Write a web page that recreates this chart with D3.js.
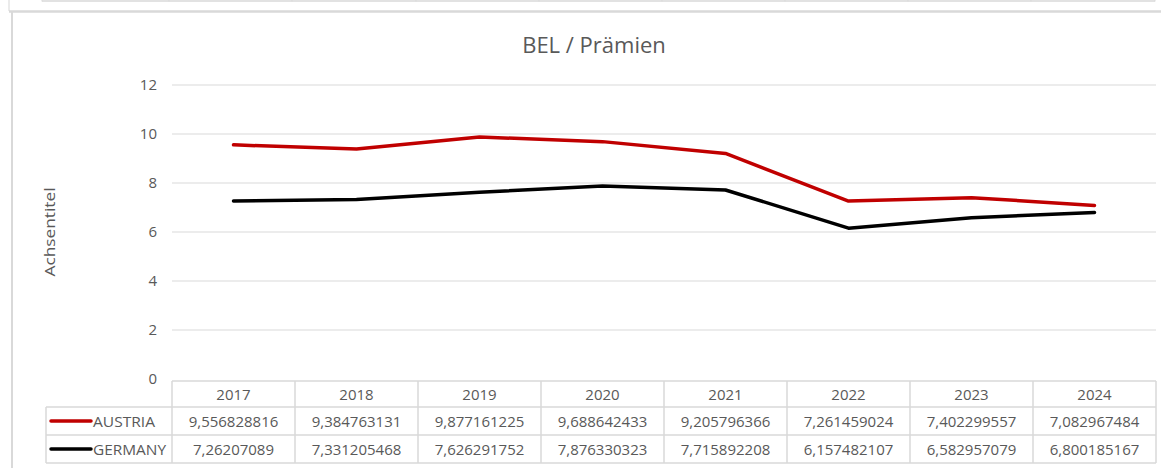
<!DOCTYPE html>
<html>
<head>
<meta charset="utf-8">
<script src="https://cdn.jsdelivr.net/npm/d3@7"></script>
<style>
  body { margin: 0; background: #fff; }
  svg { display: block; font-family: "Open Sans", "Liberation Sans", sans-serif; }
</style>
</head>
<body>
<script>
// chart data
const years = ["2017", "2018", "2019", "2020", "2021", "2022", "2023", "2024"];
const austria = [9.556828816, 9.384763131, 9.877161225, 9.688642433, 9.205796366, 7.261459024, 7.402299557, 7.082967484];
const germany = [7.26207089, 7.331205468, 7.626291752, 7.876330323, 7.715892208, 6.157482107, 6.582957079, 6.800185167];
const austriaLabels = ["9,556828816", "9,384763131", "9,877161225", "9,688642433", "9,205796366", "7,261459024", "7,402299557", "7,082967484"];
const germanyLabels = ["7,26207089", "7,331205468", "7,626291752", "7,876330323", "7,715892208", "6,157482107", "6,582957079", "6,800185167"];
const yTicks = [0, 2, 4, 6, 8, 10, 12];

const series = [
  { name: "AUSTRIA", values: austria, labels: austriaLabels, color: "#c00000" },
  { name: "GERMANY", values: germany, labels: germanyLabels, color: "#000000" }
];

const W = 1161, H = 468;
const gridCol = "#d9d9d9", textCol = "#595959";

const svg = d3.select("body").append("svg")
  .attr("width", W)
  .attr("height", H);

// remains of the sheet table above the chart
svg.append("line")
  .attr("x1", 42).attr("x2", 1155).attr("y1", 1).attr("y2", 1)
  .attr("stroke", gridCol).attr("stroke-width", 1.5);
[42, 169, 292, 416, 539, 662, 785, 908, 1031, 1155].forEach(x => {
  svg.append("line")
    .attr("x1", x).attr("x2", x).attr("y1", 0).attr("y2", 1.5)
    .attr("stroke", gridCol);
});
svg.append("line")
  .attr("x1", 9).attr("x2", 9).attr("y1", 0).attr("y2", 11)
  .attr("stroke", "#e4e4e4").attr("stroke-width", 1.5);

// chart frame
svg.append("line")
  .attr("x1", 9).attr("x2", W).attr("y1", 11.5).attr("y2", 11.5)
  .attr("stroke", gridCol).attr("stroke-width", 2.5);
svg.append("line")
  .attr("x1", 12).attr("x2", 12).attr("y1", 11).attr("y2", H)
  .attr("stroke", gridCol).attr("stroke-width", 2);

// scales
const x = d3.scaleBand().domain(years).range([172, 1156]);
const y = d3.scaleLinear().domain([0, 12]).range([379, 85]);

// gridlines
svg.append("g")
  .selectAll("line")
  .data(yTicks.filter(d => d > 0))
  .enter()
  .append("line")
  .attr("x1", 172).attr("x2", 1156)
  .attr("y1", d => y(d)).attr("y2", d => y(d))
  .attr("stroke", gridCol).attr("stroke-width", 1.2);

// y axis labels
const yAxis = d3.axisLeft(y).tickValues(yTicks).tickSize(0).tickPadding(0);
svg.append("g")
  .attr("transform", "translate(157,0)")
  .call(yAxis)
  .call(g => g.select(".domain").remove())
  .call(g => g.selectAll("text")
    .attr("fill", textCol)
    .attr("font-size", "15px")
    .attr("font-family", "'Open Sans', sans-serif"));

// y axis title
svg.append("text")
  .text("Achsentitel")
  .attr("transform", "translate(55,232) rotate(-90)")
  .attr("text-anchor", "middle")
  .attr("fill", textCol)
  .attr("font-size", "15px")
  .attr("textLength", 89)
  .attr("lengthAdjust", "spacingAndGlyphs");

// title
svg.append("text")
  .text("BEL / Prämien")
  .attr("x", 594)
  .attr("y", 53)
  .attr("text-anchor", "middle")
  .attr("fill", textCol)
  .attr("font-size", "22px");

// lines
const line = d3.line()
  .x((d, i) => x(years[i]) + x.bandwidth() / 2)
  .y(d => y(d));

svg.append("g")
  .selectAll("path")
  .data(series)
  .enter()
  .append("path")
  .attr("d", d => line(d.values))
  .attr("fill", "none")
  .attr("stroke", d => d.color)
  .attr("stroke-width", 3.5)
  .attr("stroke-linejoin", "round")
  .attr("stroke-linecap", "round");

// data table
const rowTop = [381, 407, 435, 463];
const tbl = svg.append("g");
const tLine = (x1, y1, x2, y2) => tbl.append("line")
  .attr("x1", x1).attr("y1", y1).attr("x2", x2).attr("y2", y2)
  .attr("stroke", gridCol).attr("stroke-width", 1.5);

tLine(172, rowTop[0], 1156, rowTop[0]);
tLine(46, rowTop[1], 1156, rowTop[1]);
tLine(46, rowTop[2], 1156, rowTop[2]);
tLine(46, rowTop[3], 1156, rowTop[3]);
tLine(46, rowTop[1], 46, rowTop[3]);
years.forEach(yr => tLine(x(yr), rowTop[0], x(yr), rowTop[3]));
tLine(1156, rowTop[0], 1156, rowTop[3]);

// header row
tbl.selectAll("text.year")
  .data(years)
  .enter()
  .append("text")
  .attr("class", "year")
  .text(d => d)
  .attr("x", d => x(d) + x.bandwidth() / 2)
  .attr("y", (rowTop[0] + rowTop[1]) / 2 + 5.5)
  .attr("text-anchor", "middle")
  .attr("fill", textCol)
  .attr("font-size", "15px");

series.forEach((s, r) => {
  const cy = (rowTop[r + 1] + rowTop[r + 2]) / 2;
  tbl.append("line")
    .attr("x1", 51).attr("x2", 91).attr("y1", cy).attr("y2", cy)
    .attr("stroke", s.color).attr("stroke-width", 3.5)
    .attr("stroke-linecap", "round");
  tbl.append("text")
    .text(s.name)
    .attr("x", 93)
    .attr("y", cy + 5.5)
    .attr("fill", textCol)
    .attr("font-size", "15px")
    .attr("textLength", s.name === "AUSTRIA" ? 62 : 73)
    .attr("lengthAdjust", "spacingAndGlyphs");
  tbl.selectAll("text.v" + r)
    .data(s.labels)
    .enter()
    .append("text")
    .attr("class", "v" + r)
    .text(d => d)
    .attr("x", (d, i) => x(years[i]) + x.bandwidth() / 2)
    .attr("y", cy + 5.5)
    .attr("text-anchor", "middle")
    .attr("fill", textCol)
    .attr("font-size", "15px");
});
</script>
</body>
</html>
